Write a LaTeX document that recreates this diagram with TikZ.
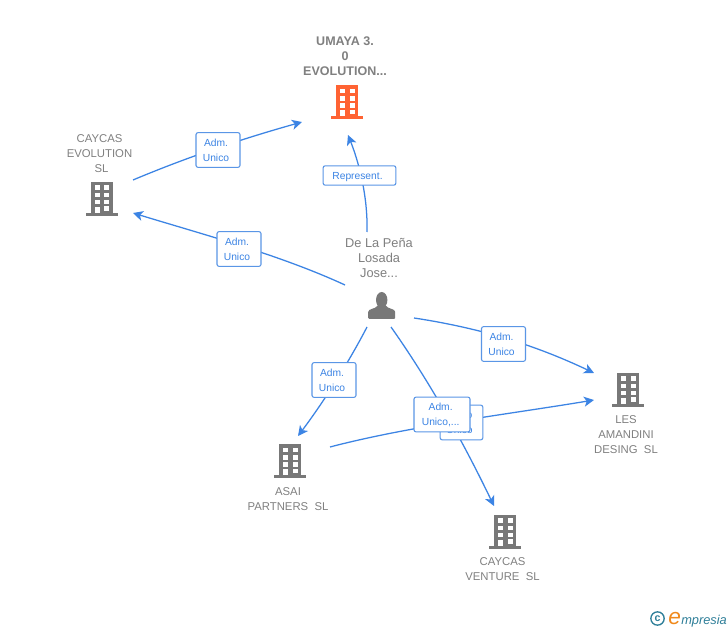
\documentclass[tikz,border=0pt]{standalone}
\usepackage{fontspec}
\setmainfont{Liberation Sans}
\usetikzlibrary{arrows.meta}
\definecolor{linkblue}{HTML}{3C84E4}
\definecolor{boxblue}{HTML}{5A96E6}
\definecolor{textgray}{HTML}{808080}
\definecolor{icongray}{HTML}{787878}
\definecolor{iconorange}{HTML}{FF6333}
\definecolor{teal1}{HTML}{2F7F99}
\definecolor{eorange}{HTML}{F08A1D}
\newcommand{\tsp}{\hspace*{3pt}}
\tikzset{
  x=0.75pt,y=-0.75pt,
  link/.style={draw=linkblue,line width=0.95pt,-{Stealth[length=7.5pt,width=7.5pt,inset=2pt]}},
  rolebox/.style={draw=boxblue,line width=0.8pt,rounded corners=1.5pt,fill=white,text=linkblue,
    font=\fontsize{7.7}{11.2}\selectfont,align=center,minimum height=26pt,inner sep=0pt,
    execute at begin node={\rule{0pt}{7pt}}},
  entityname/.style={text=textgray,font=\fontsize{8.5}{11.25}\selectfont,align=center,inner sep=0pt},
  pics/building/.style={code={
    \fill[#1] (-11,-17) rectangle (11,15);
    \fill[#1] (-16,14) rectangle (16,17);
    \foreach \wy in {-13.5,-6,1}{
      \fill[white] (-7,\wy) rectangle (-2,\wy+4.5);
      \fill[white] (2.5,\wy) rectangle (7.5,\wy+4.5);
    }
    \fill[white] (-7,8) rectangle (-2,14);
    \fill[white] (2.5,7.5) rectangle (7.5,12);
  }},
  pics/person/.style={code={
    \fill[#1, rounded corners=0.8pt] (-13.5,13) -- (-13.5,7) .. controls (-13.5,2.5) and (-6,3) .. (-4,-1)
      -- (4,-1) .. controls (6,3) and (13.5,2.5) .. (13.5,7) -- (13.5,13) -- cycle;
    \fill[#1] (0,-6) ellipse (5.7 and 8);
  }}
}
\begin{document}
\begin{tikzpicture}
\useasboundingbox (0,0) rectangle (728,630);
\fill[white] (0,0) rectangle (728,630);
% anchors
\coordinate (s1) at (133,180); \coordinate (e1) at (302,122);
\coordinate (s2) at (345,285); \coordinate (e2) at (133,213);
\coordinate (s3) at (367,232); \coordinate (e3) at (348,135);
\coordinate (s4) at (414,318); \coordinate (e4) at (594,373);
\coordinate (s5) at (367,327); \coordinate (e5) at (298,436);
\coordinate (s6) at (391,327); \coordinate (e6) at (494,506);
\coordinate (s7) at (330,447); \coordinate (e7) at (594,400);
% connectors
\draw[link] (s1) .. controls (190,156) and (245,138) .. (e1);
\draw[link] (s2) .. controls (280,255) and (205,235) .. (e2);
\draw[link] (s3) .. controls (368,195) and (358,160) .. (e3);
\draw[link] (s4) .. controls (480,328) and (535,345) .. (e4);
\draw[link] (s5) .. controls (350,360) and (325,400) .. (e5);
\draw[link] (s6) .. controls (420,368) and (455,425) .. (e6);
\draw[link] (s7) .. controls (410,426) and (510,414) .. (e7);
% role boxes
\node[rolebox,minimum width=33pt] (r1) at (218,150) {Adm.\tsp\\Unico\tsp};
\node[rolebox,minimum width=33pt] (r2) at (239,249) {Adm.\tsp\\Unico\tsp};
\node[rolebox,minimum width=54.5pt,minimum height=14.5pt] (r3) at (359.5,175.5) {Represent.\tsp};
\node[rolebox,minimum width=33pt] (r4) at (503.5,344) {Adm.\tsp\\Unico\tsp};
\node[rolebox,minimum width=33pt] (r5) at (334,380) {Adm.\tsp\\Unico\tsp};
\node[rolebox,minimum width=32pt] (r7) at (461.5,422.5) {Socio\tsp\\Unico\tsp};
\node[rolebox,minimum width=42pt] (r6) at (442,414.5) {Adm.\hspace*{2pt}\\Unico,...\hspace*{2pt}};
% icons
\pic at (347,102.5) {building=iconorange};
\pic at (101.7,199) {building=icongray};
\pic at (628,390) {building=icongray};
\pic at (290,461.5) {building=icongray};
\pic at (505,531.5) {building=icongray};
\pic at (381.7,306) {person=icongray};
% names
\node[entityname,font=\bfseries\fontsize{9.4}{11.25}\selectfont] (n1) at (345,56) {UMAYA 3.\\0\\EVOLUTION...};
\node[entityname] (n2) at (99.5,154) {CAYCAS\\EVOLUTION\\\hspace*{3pt}SL};
\node[entityname,font=\fontsize{9.6}{11.25}\selectfont] (n3) at (379,258) {De La Peña\\Losada\\Jose...};
\node[entityname] (n4) at (626,435) {LES\\AMANDINI\\DESING\ \ SL};
\node[entityname] (n5) at (288,499.5) {ASAI\\PARTNERS\ \ SL};
\node[entityname] (n6) at (502.5,569.5) {CAYCAS\\VENTURE\ \ SL};
% watermark
\node[circle,draw=teal1,line width=1pt,text=teal1,inner sep=0pt,minimum size=10pt,font=\bfseries\fontsize{8}{8}\selectfont] (wc) at (657.5,618.5) {c};
\node[inner sep=0pt,anchor=base west,text=eorange,font=\itshape\fontsize{17}{17}\selectfont] (we) at (668,624) {e};
\node[inner sep=0pt,anchor=base west,text=teal1,font=\itshape\fontsize{9.6}{10}\selectfont] (wt) at (681,624) {mpresia};
\end{tikzpicture}
\end{document}
